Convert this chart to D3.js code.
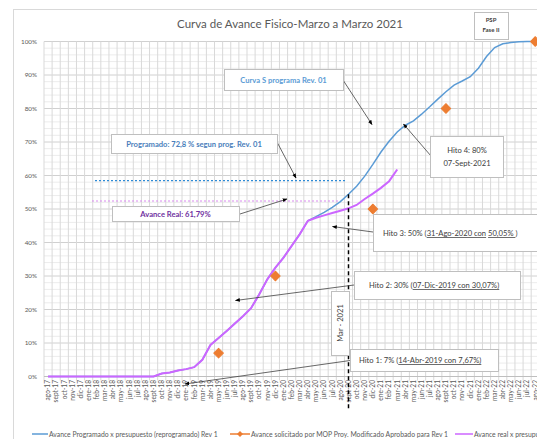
<!DOCTYPE html>
<html>
<head>
<meta charset="utf-8">
<script src="https://cdn.jsdelivr.net/npm/d3@7"></script>
<style>
body{margin:0;background:#fff;}
svg{font-family:Lato,"Open Sans",sans-serif;}
</style>
</head>
<body>
<svg id="chart"></svg>
<script>
var months=["ago-17","sept-17","oct-17","nov-17","dic-17","ene-18","feb-18","mar-18","abr-18","may-18","jun-18","jul-18",
  "ago-18","sept-18","oct-18","nov-18","dic-18","ene-19","feb-19","mar-19","abr-19","may-19","jun-19","jul-19",
  "ago-19","sept-19","oct-19","nov-19","dic-19","ene-20","feb-20","mar-20","abr-20","may-20","jun-20","jul-20",
  "ago-20","sept-20","oct-20","nov-20","dic-20","ene-21","feb-21","mar-21","abr-21","may-21","jun-21","jul-21",
  "ago-21","sept-21","oct-21","nov-21","dic-21","ene-22","feb-22","mar-22","abr-22","may-22","jun-22","jul-22","ago-22"];
// Avance Programado x presupuesto (reprogramado) Rev 1  (%)
var programado=[0,0,0,0,0,0,0,0,0,0,0,0,0,0,0.9,1.2,1.8,2.2,2.8,5.0,9.4,11.5,13.6,15.8,18.0,20.4,24.5,29.0,32.5,35.5,39.0,42.5,
  46.5,47.7,49.0,50.5,52.2,54.4,56.8,59.8,63.3,67.0,70.2,73.0,75.0,76.3,78.3,80.5,82.8,85.0,87.0,88.2,89.5,92.0,95.5,98.2,99.3,99.7,99.9,100,100];
// Avance real x presupuesto (%)
var real=[0,0,0,0,0,0,0,0,0,0,0,0,0,0,0.9,1.2,1.8,2.2,2.8,5.0,9.4,11.5,13.6,15.8,18.0,20.4,24.5,29.0,32.5,35.5,39.0,42.5,
  46.5,47.4,48.1,48.8,49.5,50.2,51.2,53.0,54.6,56.3,58.3,61.79,null,null,null,null,null,null,null,null,null,null,null,null,null,null,null,null,null];
// Avance solicitado por MOP (hitos)
var solicitadoMes=["may-19","dic-19","dic-20","sept-21","ago-22"];
var solicitadoVal=[7,30,50,80,100];
var yTicks=[0,10,20,30,40,50,60,70,80,90,100];
var corteMes="sept-20";

var W=537,H=439;
var svg=d3.select("#chart").attr("width",W).attr("height",H);
var x=d3.scaleBand().domain(months).range([44,44+61*8.12]).padding(0);
var y=d3.scaleLinear().domain([0,100]).range([376.5,41.5]);
function xc(m){return x(m)+x.bandwidth()/2;}

svg.append("rect").attr("x",13.5).attr("y",9.5).attr("width",700).attr("height",600)
   .attr("fill","#fff").attr("stroke","#d9d9d9");

var defs=svg.append("defs");
defs.append("marker").attr("id","arr").attr("viewBox","0 0 10 10").attr("refX",9).attr("refY",5)
    .attr("markerWidth",6).attr("markerHeight",6).attr("orient","auto")
    .append("path").attr("d","M0,1L10,5L0,9Z").attr("fill","#000");

// grid
var grid=svg.append("g");
grid.selectAll(".hmin").data(d3.range(0,101,2)).enter().append("line")
    .attr("x1",x.range()[0]).attr("x2",x.range()[1])
    .attr("y1",function(d){return y(d);}).attr("y2",function(d){return y(d);})
    .attr("stroke",function(d){return d%10==0?"#d0d0d0":"#ececec";}).attr("stroke-width",1);
grid.selectAll(".v").data(months.concat(["end"])).enter().append("line")
    .attr("x1",function(d){return d=="end"?x.range()[1]:x(d);})
    .attr("x2",function(d){return d=="end"?x.range()[1]:x(d);})
    .attr("y1",y(100)).attr("y2",y(0)+4)
    .attr("stroke","#d9d9d9").attr("stroke-width",1);
grid.append("line").attr("x1",x.range()[0]).attr("x2",x.range()[1]).attr("y1",y(0)).attr("y2",y(0))
    .attr("stroke","#bfbfbf");

// y labels
svg.append("g").selectAll("text").data(yTicks).enter().append("text")
   .attr("x",37).attr("y",function(d){return y(d)+2;})
   .attr("text-anchor","end").attr("font-size",6.3).attr("fill","#595959")
   .text(function(d){return d+"%";});
// x labels
svg.append("g").selectAll("text").data(months).enter().append("text")
   .attr("transform",function(d){return "translate("+(xc(d)+2.3)+",380) rotate(-90)";})
   .attr("text-anchor","end").attr("font-size",6.6).attr("fill","#595959")
   .text(function(d){return d;});

// title
svg.append("text").attr("x",290).attr("y",28).attr("text-anchor","middle")
   .attr("font-size",11.5).attr("fill","#595959").text("Curva de Avance Fisico-Marzo a Marzo 2021");

// series
var line=d3.line().defined(function(d){return d!=null;})
   .x(function(d,i){return xc(months[i]);})
   .y(function(d){return y(d);});
svg.append("path").datum(programado).attr("d",line).attr("fill","none")
   .attr("stroke","#5b9bd5").attr("stroke-width",1.5);
svg.append("path").datum(real).attr("d",line).attr("fill","none")
   .attr("stroke","#cc66ff").attr("stroke-width",2);
var diamond=d3.symbol().type(d3.symbolSquare).size(46);
svg.append("g").selectAll("path").data(solicitadoMes).enter().append("path")
   .attr("d",diamond)
   .attr("transform",function(d,i){return "translate("+xc(d)+","+y(solicitadoVal[i])+") rotate(45)";})
   .attr("fill","#ed7d31").attr("stroke","#ed7d31").attr("stroke-width",1).attr("stroke-linejoin","round");

// dotted reference lines
svg.append("line").attr("x1",95).attr("x2",347).attr("y1",180.7).attr("y2",180.7)
   .attr("stroke","#2e8bd6").attr("stroke-width",1.2).attr("stroke-dasharray","2,2");
svg.append("line").attr("x1",92).attr("x2",338).attr("y1",201).attr("y2",201)
   .attr("stroke","#d98cf0").attr("stroke-width",1.2).attr("stroke-dasharray","2,2");

// cut line
var ci=months.indexOf(corteMes);
svg.append("line").attr("x1",xc(corteMes)).attr("x2",xc(corteMes))
   .attr("y1",y(programado[ci])).attr("y2",410)
   .attr("stroke","#000").attr("stroke-width",1.5).attr("stroke-dasharray","4,3");

// annotations
function leader(x1,y1,x2,y2){
  svg.append("line").attr("x1",x1).attr("y1",y1).attr("x2",x2).attr("y2",y2)
     .attr("stroke","#404040").attr("stroke-width",0.8).attr("marker-end","url(#arr)");
}
function box(bx,by,bw,bh){
  svg.append("rect").attr("x",bx+0.5).attr("y",by+0.5).attr("width",bw).attr("height",bh)
     .attr("fill","#fff").attr("stroke","#bfbfbf").attr("stroke-width",1);
}
leader(343,80,372,124.5);
leader(277,142,296,178);
leader(240,214,287,199);
leader(431,156,403.5,124);
leader(373,232,332.5,226.5);
leader(354,285,235.5,300.5);
leader(350,360.5,185,384);

box(224,69,119,21);
svg.append("text").attr("x",283.5).attr("y",82.5).attr("text-anchor","middle").attr("font-size",7.6)
   .attr("font-weight","bold").attr("fill","#5b9bd5").text("Curva S programa Rev. 01");

box(474,12,34,27);
svg.append("text").attr("x",491).attr("y",22).attr("text-anchor","middle").attr("font-size",6)
   .attr("font-weight","bold").attr("fill","#404040").text("PSP");
svg.append("text").attr("x",491).attr("y",32).attr("text-anchor","middle").attr("font-size",6)
   .attr("font-weight","bold").attr("fill","#404040").text("Fase II");

box(111,134,166,19);
svg.append("text").attr("x",194).attr("y",146.5).attr("text-anchor","middle").attr("font-size",7.6)
   .attr("font-weight","bold").attr("fill","#4a7ebb").text("Programado: 72,8 % segun prog. Rev. 01");

box(112,206,127,15);
svg.append("text").attr("x",175.5).attr("y",216.5).attr("text-anchor","middle").attr("font-size",7.6)
   .attr("font-weight","bold").attr("fill","#7030a0").text("Avance Real: 61,79%");

box(430,136,73,41);
svg.append("text").attr("x",467).attr("y",153).attr("text-anchor","middle").attr("font-size",7.6)
   .attr("fill","#404040").text("Hito 4: 80%");
svg.append("text").attr("x",467).attr("y",166).attr("text-anchor","middle").attr("font-size",7.6)
   .attr("fill","#404040").text("07-Sept-2021");

function hito(tx,ty,pre,u1,mid,u2,post){
  var t=svg.append("text").attr("x",tx).attr("y",ty).attr("font-size",7.6).attr("fill","#404040");
  t.append("tspan").text(pre);
  t.append("tspan").attr("text-decoration","underline").text(u1);
  if(mid!=null){t.append("tspan").text(mid);}
  if(u2!=null){t.append("tspan").attr("text-decoration","underline").text(u2);}
  if(post!=null){t.append("tspan").text(post);}
}
box(373,214,170,37);
hito(383,236,"Hito 3: 50% (","31-Ago-2020 con"," ","50,05% ",")");
box(354,271,166,28);
hito(369,288,"Hito 2: 30% (","07-Dic-2019 con 30,07%)");
box(350,349,148,22);
hito(359,363,"Hito 1: 7% (","14-Abr-2019 con 7,67%)");

box(331,291,18,64);
svg.append("text").attr("transform","translate(343,323) rotate(-90)").attr("text-anchor","middle")
   .attr("font-size",7.6).attr("fill","#404040").text("Mar - 2021");

// legend
var lg=svg.append("g");
lg.append("line").attr("x1",32).attr("x2",48).attr("y1",434).attr("y2",434).attr("stroke","#5b9bd5").attr("stroke-width",1.5);
lg.append("text").attr("x",49).attr("y",436.5).attr("font-size",6.8).attr("fill","#595959")
  .text("Avance Programado x presupuesto (reprogramado) Rev 1");
lg.append("line").attr("x1",230).attr("x2",250).attr("y1",434).attr("y2",434).attr("stroke","#ed7d31").attr("stroke-width",1.5);
lg.append("path").attr("d",d3.symbol().type(d3.symbolSquare).size(18)).attr("transform","translate(240,434) rotate(45)").attr("fill","#ed7d31");
lg.append("text").attr("x",251).attr("y",436.5).attr("font-size",6.8).attr("fill","#595959")
  .text("Avance solicitado por MOP Proy. Modificado Aprobado para Rev 1");
lg.append("line").attr("x1",455).attr("x2",473).attr("y1",434).attr("y2",434).attr("stroke","#cc66ff").attr("stroke-width",1.5);
lg.append("text").attr("x",474).attr("y",436.5).attr("font-size",6.8).attr("fill","#595959")
  .text("Avance real x presupuesto");
</script>
</body>
</html>
